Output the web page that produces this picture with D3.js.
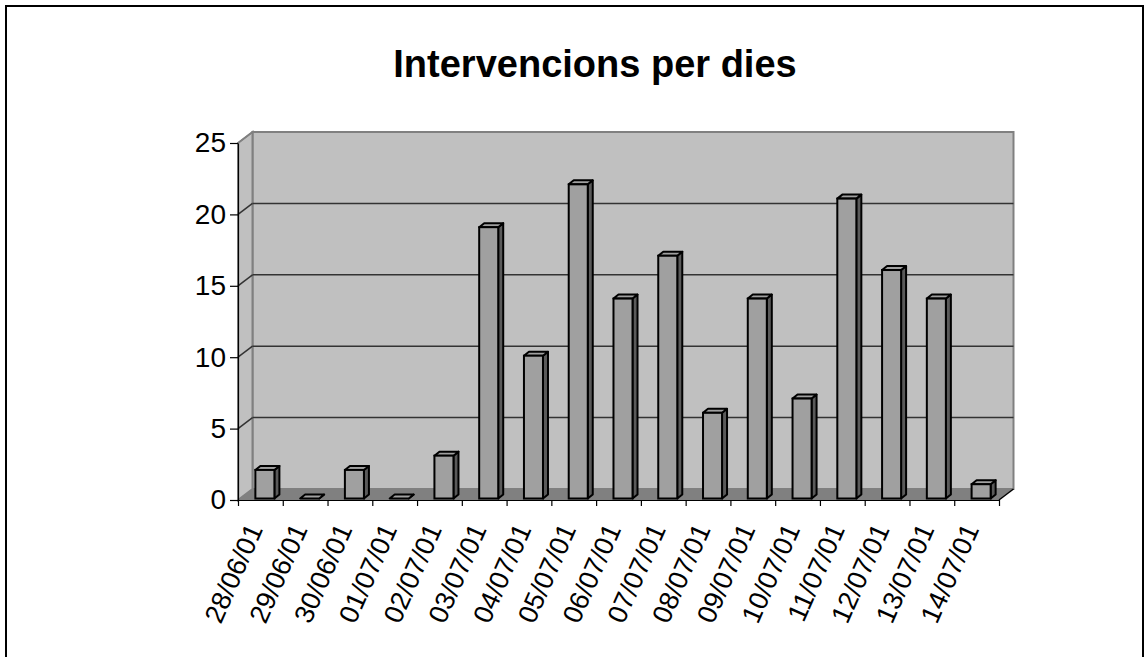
<!DOCTYPE html>
<html>
<head>
<meta charset="utf-8">
<script src="https://cdn.jsdelivr.net/npm/d3@7"></script>
<style>
  body { margin: 0; background: #fff; }
  svg { display: block; font-family: "Liberation Sans", Arial, sans-serif; }
</style>
</head>
<body>
<div id="chart"></div>
<script>
"use strict";

// chart data
var days = ["28/06/01", "29/06/01", "30/06/01", "01/07/01", "02/07/01", "03/07/01",
  "04/07/01", "05/07/01", "06/07/01", "07/07/01", "08/07/01", "09/07/01",
  "10/07/01", "11/07/01", "12/07/01", "13/07/01", "14/07/01"];
var interventions = [2, 0, 2, 0, 3, 19, 10, 22, 14, 17, 6, 14, 7, 21, 16, 14, 1];
var yTickValues = [0, 5, 10, 15, 20, 25];
var chartTitle = "Intervencions per dies";

// layout values
var width = 1148;
var height = 657;
var plotLeft = 238;
var plotRight = 999;
var plotTop = 143;
var plotBottom = 500;
var depthX = 14.5;
var depthY = -11;
var barShiftX = 4.5;
var barShiftY = -1.5;
var barDepthX = 5;
var barDepthY = -4;
var labelAngle = -66;

var svg = d3.select("#chart").append("svg").attr("width", width).attr("height", height);

// outer frame
svg.append("rect").attr("x", 6).attr("y", 6).attr("width", 1137).attr("height", 670).style("fill", "#fff").style("stroke", "#000").style("stroke-width", 2);

// title
svg.append("text").attr("x", 595).attr("y", 77).attr("text-anchor", "middle").style("font-size", "38px").style("font-weight", "bold").text(chartTitle);

// scales
var x = d3.scaleBand().domain(days).range([plotLeft, plotRight]).paddingInner(0.575).paddingOuter(0.2875);
var y = d3.scaleLinear().domain([0, 25]).range([plotBottom, plotTop]);

// back wall
svg.append("rect").attr("x", plotLeft + depthX).attr("y", plotTop + depthY).attr("width", plotRight - plotLeft).attr("height", plotBottom - plotTop).style("fill", "#c0c0c0").style("stroke", "#808080").style("stroke-width", 2);

// side wall
svg.append("polygon").attr("points", [[plotLeft, plotTop], [plotLeft + depthX, plotTop + depthY], [plotLeft + depthX, plotBottom + depthY], [plotLeft, plotBottom]].join(" ")).style("fill", "#c0c0c0").style("stroke", "#808080").style("stroke-width", 2);

// floor
svg.append("polygon").attr("points", [[plotLeft, plotBottom], [plotRight, plotBottom], [plotRight + depthX, plotBottom + depthY], [plotLeft + depthX, plotBottom + depthY]].join(" ")).style("fill", "#808080");
svg.append("line").attr("x1", plotRight).attr("y1", plotBottom).attr("x2", plotRight + depthX).attr("y2", plotBottom + depthY).style("stroke", "#000").style("stroke-width", 1.5);

// gridlines on back and side walls
var grid = svg.append("g");
grid.selectAll("line.back").data(yTickValues.filter(function (v) { return v > 0 && v < 25; })).enter().append("line").attr("class", "back").attr("x1", plotLeft + depthX).attr("x2", plotRight + depthX).attr("y1", function (v) {
  return y(v) + depthY;
}).attr("y2", function (v) {
  return y(v) + depthY;
}).style("stroke", "#333").style("stroke-width", 1.5);
grid.selectAll("line.side").data(yTickValues.filter(function (v) { return v > 0; })).enter().append("line").attr("class", "side").attr("x1", plotLeft).attr("x2", plotLeft + depthX).attr("y1", function (v) {
  return y(v);
}).attr("y2", function (v) {
  return y(v) + depthY;
}).style("stroke", function (v) {
  return v === 25 ? "#808080" : "#333";
}).style("stroke-width", 1.5);

// y axis
var yAxis = svg.append("g").attr("transform", "translate(" + plotLeft + ",0)").call(d3.axisLeft(y).tickValues(yTickValues).tickSize(8).tickSizeOuter(0).tickPadding(4));
yAxis.selectAll("text").style("font-size", "28px").style("font-family", "Liberation Sans, Arial, sans-serif").attr("fill", "#000");
yAxis.selectAll("line, path").style("stroke", "#000").style("stroke-width", 1.2);

// x axis line with ticks at category boundaries
var boundary = d3.scaleLinear().domain([0, days.length]).range([plotLeft, plotRight]);
var xAxis = svg.append("g").attr("transform", "translate(0," + plotBottom + ")").call(d3.axisBottom(boundary).tickValues(d3.range(days.length + 1)).tickSize(6).tickSizeOuter(0).tickFormat(""));
xAxis.selectAll("line, path").style("stroke", "#000").style("stroke-width", 1.2);

// category labels, rotated
svg.append("g").selectAll("text").data(days).enter().append("text").attr("transform", function (d) {
  return "translate(" + (x(d) + x.bandwidth() / 2 + 3) + ",529) rotate(" + labelAngle + ")";
}).attr("text-anchor", "end").style("font-size", "27px").text(function (d) {
  return d;
});

// bars drawn as 3d columns
svg.append("g").selectAll("g").data(interventions).enter().append("g").each(function (v, i) {
  var g = d3.select(this);
  var x0 = x(days[i]) + barShiftX;
  var w = x.bandwidth();
  var top = y(v) + barShiftY;
  var bottom = y(0) + barShiftY;

  // side face
  g.append("polygon").attr("points", [[x0 + w, top], [x0 + w + barDepthX, top + barDepthY], [x0 + w + barDepthX, bottom + barDepthY], [x0 + w, bottom]].join(" ")).style("fill", "#5a5a5a").style("stroke", "#000").style("stroke-width", 2).style("stroke-linejoin", "round");

  // top face
  g.append("polygon").attr("points", [[x0, top], [x0 + w, top], [x0 + w + barDepthX, top + barDepthY], [x0 + barDepthX, top + barDepthY]].join(" ")).style("fill", "#a0a0a0").style("stroke", "#000").style("stroke-width", 2).style("stroke-linejoin", "round");

  // front face
  if (v > 0) {
    g.append("rect").attr("x", x0).attr("y", top).attr("width", w).attr("height", bottom - top).style("fill", "#a0a0a0").style("stroke", "#000").style("stroke-width", 2);
  }
});
</script>
</body>
</html>
